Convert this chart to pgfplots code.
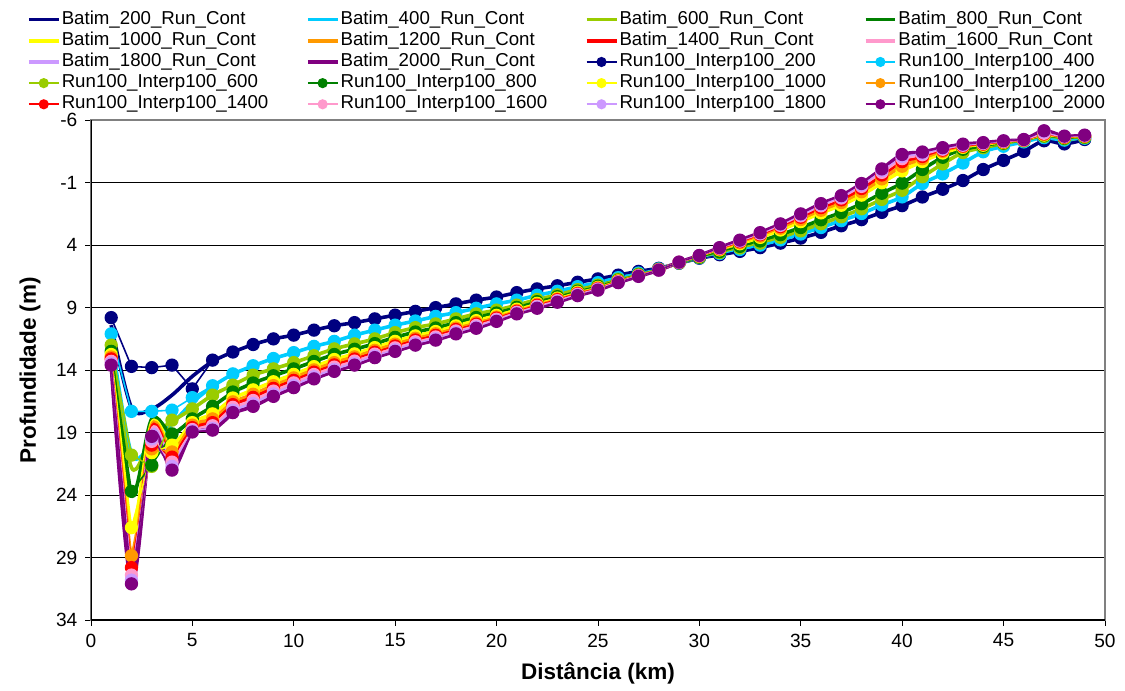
\documentclass[border=0pt]{standalone}
\usepackage{fontspec}
\setmainfont{Liberation Sans}
\usepackage{pgfplots}
\usepackage{pgfplotstable}
\pgfplotsset{compat=1.18}

\definecolor{c200}{HTML}{000080}
\definecolor{c400}{HTML}{00CCFF}
\definecolor{c600}{HTML}{99CC00}
\definecolor{c800}{HTML}{008000}
\definecolor{c1000}{HTML}{FFFF00}
\definecolor{c1200}{HTML}{FF9900}
\definecolor{c1400}{HTML}{FF0000}
\definecolor{c1600}{HTML}{FF99CC}
\definecolor{c1800}{HTML}{CC99FF}
\definecolor{c2000}{HTML}{800080}

% Run100_Interp100_* (markers), depth in m per km
\pgfplotstableread{
x  r200  r400  r600  r800  r1000 r1200 r1400 r1600 r1800 r2000
1  9.8   11.1  12.0  12.5  12.75 12.95 13.1  13.3  13.45 13.6
2  13.7  17.3  20.8  23.7  26.6  28.85 29.8  30.4  30.8  31.1
3  13.8  17.3  21.7  21.6  20.6  20.3  20.0  19.7  19.5  19.3
4  13.6  17.2  18.0  19.1  20.0  20.55 20.96 21.36 21.7  22.0
5  15.5  16.2  17.1  17.9  18.2  18.4  18.6  18.75 18.85 18.95
6  13.2  15.25 16.0  16.9  17.5  17.9  18.2  18.45 18.65 18.8
7  12.55 14.3  15.2  15.75 16.23 16.54 16.76 16.98 17.2  17.4
8  11.95 13.65 14.4  15.03 15.58 15.93 16.18 16.43 16.68 16.9
9  11.5  13.07 13.9  14.45 14.93 15.24 15.46 15.68 15.9  16.1
10 11.2  12.6  13.4  13.9  14.34 14.62 14.82 15.02 15.22 15.4
11 10.8  12.1  12.85 13.31 13.72 13.98 14.16 14.35 14.53 14.7
12 10.45 11.7  12.3  12.75 13.15 13.4  13.58 13.76 13.94 14.1
13 10.2  11.2  11.9  12.33 12.7  12.94 13.11 13.28 13.45 13.6
14 9.9   10.8  11.5  11.88 12.2  12.42 12.57 12.72 12.87 13.0
15 9.6   10.4  11.0  11.38 11.7  11.92 12.07 12.22 12.37 12.5
16 9.3   10.07 10.6  10.95 11.26 11.45 11.59 11.73 11.87 12.0
17 9.0   9.7   10.3  10.63 10.91 11.09 11.22 11.35 11.48 11.6
18 8.7   9.4   9.9   10.2  10.46 10.63 10.75 10.87 10.99 11.1
19 8.4   9.05  9.5   9.79  10.04 10.2  10.32 10.43 10.55 10.65
20 8.15  8.7   9.2   9.43  9.62  9.75  9.84  9.93  10.02 10.1
21 7.8   8.4   8.8   8.98  9.13  9.23  9.3   9.37  9.44  9.5
22 7.5   8.01  8.35  8.52  8.66  8.74  8.82  8.9   8.97  9.05
23 7.25  7.69  7.98  8.12  8.24  8.31  8.37  8.44  8.5   8.57
24 6.97  7.32  7.56  7.68  7.77  7.83  7.88  7.93  7.99  8.04
25 6.7   7.0   7.2   7.29  7.38  7.42  7.47  7.51  7.56  7.6
26 6.4   6.6   6.73  6.8   6.85  6.88  6.91  6.94  6.97  7.0
27 6.1   6.23  6.32  6.36  6.4   6.42  6.44  6.46  6.48  6.5
28 5.85  5.9   5.93  5.95  5.96  5.97  5.98  5.99  6.0   6.0
29 5.45  5.43  5.42  5.41  5.39  5.39  5.38  5.37  5.37  5.36
30 5.05  5.01  4.99  4.96  4.9   4.88  4.86  4.85  4.84  4.83
31 4.77  4.67  4.6   4.52  4.38  4.33  4.28  4.25  4.22  4.2
32 4.5   4.35  4.23  4.1   3.89  3.81  3.73  3.67  3.64  3.6
33 4.2   4.0   3.84  3.67  3.38  3.28  3.17  3.1   3.05  3.0
34 3.84  3.58  3.38  3.16  2.79  2.65  2.52  2.42  2.36  2.3
35 3.44  3.11  2.86  2.59  2.12  1.95  1.77  1.66  1.58  1.5
36 2.98  2.59  2.29  1.97  1.42  1.21  1.0   0.86  0.77  0.68
37 2.45  2.04  1.73  1.39  0.81  0.59  0.38  0.23  0.14  0.04
38 1.96  1.47  1.09  0.69  0.0   -0.27 -0.53 -0.7  -0.81 -0.93
39 1.38  0.79  0.34  -0.15 -0.99 -1.3  -1.61 -1.82 -1.96 -2.1
40 0.84  0.14  -0.39 -0.96 -1.94 -2.31 -2.68 -2.92 -3.09 -3.25
41 0.15  -0.93 -1.47 -2.05 -2.69 -2.91 -3.09 -3.23 -3.34 -3.45
42 -0.47 -1.7  -2.5  -3.03 -3.37 -3.5  -3.6  -3.67 -3.73 -3.8
43 -1.17 -2.57 -3.41 -3.67 -3.82 -3.88 -3.93 -3.99 -4.02 -4.08
44 -2.05 -3.47 -3.79 -3.9  -3.99 -4.05 -4.09 -4.14 -4.16 -4.2
45 -2.78 -3.91 -4.11 -4.16 -4.21 -4.24 -4.27 -4.3  -4.32 -4.35
46 -3.5  -4.26 -4.34 -4.36 -4.37 -4.39 -4.4  -4.42 -4.43 -4.45
47 -4.35 -4.6  -4.7  -4.75 -4.8  -4.85 -4.9  -4.95 -5.05 -5.15
48 -4.1  -4.4  -4.5  -4.55 -4.6  -4.62 -4.65 -4.68 -4.7  -4.72
49 -4.45 -4.55 -4.6  -4.65 -4.7  -4.72 -4.74 -4.76 -4.78 -4.8
}\runs

% Batim_*_Run_Cont, first km (after km 7 they follow the runs above)
\pgfplotstableread{
x b200  b400  b600  b800  b1000 b1200 b1400 b1600 b1800 b2000
1 10.4  11.3  12.1  12.5  12.75 12.95 13.1  13.3  13.45 13.6
2 17.0  20.7  21.8  24.0  26.6  28.85 29.8  30.4  30.8  31.1
3 17.1  19.9  19.3  17.9  18.2  18.4  18.6  18.8  19.0  19.2
4 16.0  18.3  18.1  19.1  20.0  20.55 20.96 21.36 21.7  22.0
5 14.5  16.6  17.1  17.9  18.2  18.4  18.6  18.75 18.85 18.95
6 13.3  15.3  16.0  16.9  17.5  17.9  18.2  18.45 18.65 18.8
7 12.55 14.3  15.2  15.75 16.23 16.54 16.76 16.98 17.2  17.4
}\batstart

\pgfplotsset{
  bat/.style={line width=1.6pt, smooth, no markers},
  run/.style={line width=0.7pt, mark=*, mark size=2.6pt, mark options={solid}},
}

\begin{document}
\begin{tikzpicture}[font=\fontsize{8.3}{10}\selectfont]
\useasboundingbox (-40.4pt,-31.1pt) rectangle (459.6pt,275.6pt);
\begin{axis}[
  scale only axis, width=450.67pt, height=222.2pt,
  xmin=0, xmax=50, xtick distance=5,
  ymin=-6, ymax=34, y dir=reverse, ytick={-6,-1,...,34},
  ymajorgrids, grid style={black, line width=0.5pt},
  axis line style={gray, line width=0.6pt},
  tick align=outside, major tick length=2.5pt, tick style={black},
  xtick pos=bottom, ytick pos=left,
  /pgf/number format/assume math mode=true,
  ticklabel style={font=\fontsize{8.5}{10}\selectfont},
  xlabel={Distância (km)}, ylabel={Profundidade (m)},
  label style={font=\fontsize{10}{12}\selectfont\bfseries},
  legend columns=4, legend cell align=left,
  legend style={draw=none, fill=none, at={(-0.070,1.232)}, anchor=north west,
    row sep=0pt, nodes={inner sep=0.5pt, text height=6.2pt, text depth=2.2pt},
    /tikz/every even column/.append style={column sep=16.2pt}},
  legend image code/.code={\draw[mark repeat=2, mark phase=2, #1, mark size=1.9pt]
    plot coordinates {(0pt,0pt) (6.6pt,0pt) (13.3pt,0pt)};},
]
\addplot[bat, c200] table[x=x, y=b200] {\batstart};
\addplot[bat, c200, forget plot, restrict x to domain=7:49] table[x=x, y=r200] {\runs};
\addplot[bat, c400] table[x=x, y=b400] {\batstart};
\addplot[bat, c400, forget plot, restrict x to domain=7:49] table[x=x, y=r400] {\runs};
\addplot[bat, c600] table[x=x, y=b600] {\batstart};
\addplot[bat, c600, forget plot, restrict x to domain=7:49] table[x=x, y=r600] {\runs};
\addplot[bat, c800] table[x=x, y=b800] {\batstart};
\addplot[bat, c800, forget plot, restrict x to domain=7:49] table[x=x, y=r800] {\runs};
\addplot[bat, c1000] table[x=x, y=b1000] {\batstart};
\addplot[bat, c1000, forget plot, restrict x to domain=7:49] table[x=x, y=r1000] {\runs};
\addplot[bat, c1200] table[x=x, y=b1200] {\batstart};
\addplot[bat, c1200, forget plot, restrict x to domain=7:49] table[x=x, y=r1200] {\runs};
\addplot[bat, c1400] table[x=x, y=b1400] {\batstart};
\addplot[bat, c1400, forget plot, restrict x to domain=7:49] table[x=x, y=r1400] {\runs};
\addplot[bat, c1600] table[x=x, y=b1600] {\batstart};
\addplot[bat, c1600, forget plot, restrict x to domain=7:49] table[x=x, y=r1600] {\runs};
\addplot[bat, c1800] table[x=x, y=b1800] {\batstart};
\addplot[bat, c1800, forget plot, restrict x to domain=7:49] table[x=x, y=r1800] {\runs};
\addplot[bat, c2000] table[x=x, y=b2000] {\batstart};
\addplot[bat, c2000, forget plot, restrict x to domain=7:49] table[x=x, y=r2000] {\runs};

\addplot[run, c200] table[x=x, y=r200] {\runs};
\addplot[run, c400] table[x=x, y=r400] {\runs};
\addplot[run, c600] table[x=x, y=r600] {\runs};
\addplot[run, c800] table[x=x, y=r800] {\runs};
\addplot[run, c1000] table[x=x, y=r1000] {\runs};
\addplot[run, c1200] table[x=x, y=r1200] {\runs};
\addplot[run, c1400] table[x=x, y=r1400] {\runs};
\addplot[run, c1600] table[x=x, y=r1600] {\runs};
\addplot[run, c1800] table[x=x, y=r1800] {\runs};
\addplot[run, c2000] table[x=x, y=r2000] {\runs};

\legend{Batim\_200\_Run\_Cont, Batim\_400\_Run\_Cont, Batim\_600\_Run\_Cont, Batim\_800\_Run\_Cont,
  Batim\_1000\_Run\_Cont, Batim\_1200\_Run\_Cont, Batim\_1400\_Run\_Cont, Batim\_1600\_Run\_Cont,
  Batim\_1800\_Run\_Cont, Batim\_2000\_Run\_Cont, Run100\_Interp100\_200, Run100\_Interp100\_400,
  Run100\_Interp100\_600, Run100\_Interp100\_800, Run100\_Interp100\_1000, Run100\_Interp100\_1200,
  Run100\_Interp100\_1400, Run100\_Interp100\_1600, Run100\_Interp100\_1800, Run100\_Interp100\_2000}
\draw[gray, line width=0.6pt] (axis cs:0,-6) -- (axis cs:50,-6);
\draw[black, line width=0.9pt] (axis cs:0,34) -- (axis cs:50,34);
\draw[black, line width=0.6pt] (axis cs:0,-6) -- (axis cs:0,34);
\end{axis}
\end{tikzpicture}
\end{document}
